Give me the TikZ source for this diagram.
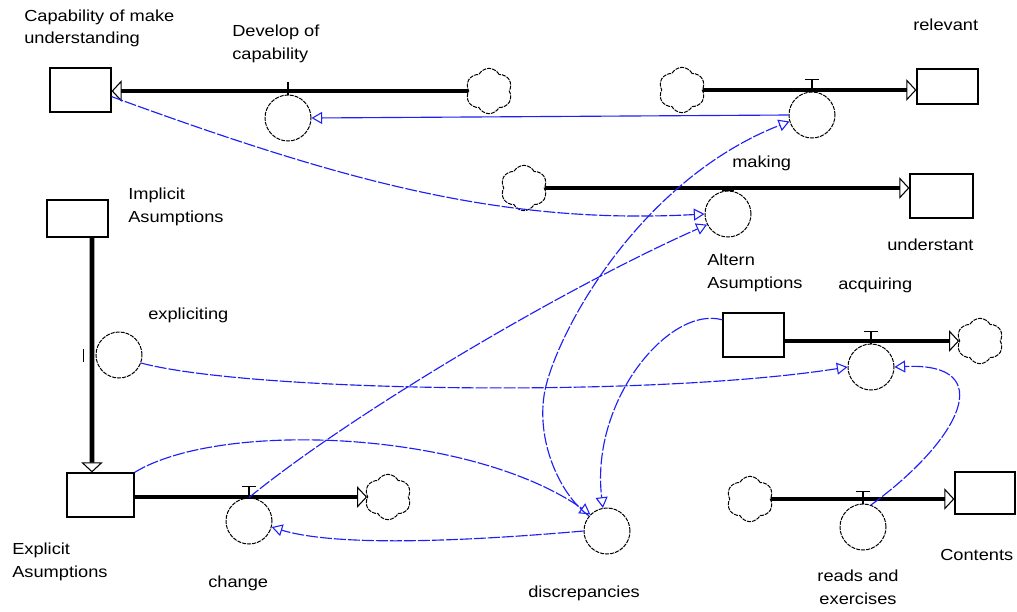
\documentclass[tikz,border=0pt]{standalone}
\usepackage{fontspec}
\setmainfont{Liberation Sans}[FakeStretch=1.14]
\usetikzlibrary{arrows.meta,shapes.symbols}
\definecolor{linkblue}{RGB}{30,30,250}
\begin{document}
\begin{tikzpicture}[x=0.75pt,y=-0.75pt,
  stock/.style={draw=black, line width=0.9pt, rectangle, inner sep=0pt},
  valve/.style={draw=black, circle, line width=0.75pt, dash pattern=on 3pt off 0.8pt, minimum size=34.5pt, inner sep=0pt},
  cloudy/.style={draw=black, cloud, cloud puffs=6, cloud puff arc=125, aspect=1, line width=0.75pt, dash pattern=on 3pt off 0.8pt, minimum width=35pt, minimum height=34pt, inner sep=0pt},
  pipe/.style={line width=3.6pt, black, -{Triangle[open, length=7.5pt, width=16pt, line width=0.8pt]}},
  pipethin/.style={pipe, line width=2.6pt},
  link/.style={linkblue, line width=0.85pt, -{Triangle[open, length=8pt, width=9pt, line width=0.8pt]}},
  brk/.style={dash pattern=on 9pt off 1.5pt},
  lbl/.style={font=\fontsize{12}{17}\selectfont, align=left, inner sep=0pt},
  tee/.style={line width=0.8pt, black}
]
\useasboundingbox[fill=white] (0,0) rectangle (1017,611);

% stocks
\node[stock, minimum width=45.75pt, minimum height=33pt] (capS) at (80.5,90) {};
\node[stock, minimum width=45.75pt, minimum height=26.25pt] (relS) at (947.5,86.5) {};
\node[stock, minimum width=47.25pt, minimum height=33pt] (undS) at (941.5,196) {};
\node[stock, minimum width=45.75pt, minimum height=27.75pt] (impS) at (77.5,218.5) {};
\node[stock, minimum width=50.25pt, minimum height=33pt] (expS) at (100.5,495) {};
\node[stock, minimum width=45.75pt, minimum height=33pt] (acqS) at (753.5,335) {};
\node[stock, minimum width=45pt, minimum height=31.5pt] (conS) at (985,493) {};

% clouds
\node[cloudy] (cl1) at (489,91) {};
\node[cloudy] (cl2) at (682,90) {};
\node[cloudy] (cl3) at (524,188) {};
\node[cloudy] (cl4) at (980,341) {};
\node[cloudy] (cl5) at (388,497) {};
\node[cloudy] (cl6) at (750,499) {};

% valves / converters
\node[valve] (vDev) at (288,118) {};
\node[valve] (vRel) at (812,115) {};
\node[valve] (vMak) at (728,214) {};
\node[valve] (vAcq) at (871,367) {};
\node[valve] (vExp) at (119,355) {};
\node[valve] (vChg) at (249,521) {};
\node[valve] (vDis) at (607,531) {};
\node[valve] (vRd) at (863,527) {};

% pipes
\draw[pipe] (cl1.west) -- (cl1.west -| capS.east);
\draw[pipe] (cl2.east) -- (cl2.east -| relS.west);
\draw[pipethin] (cl3.east) -- (cl3.east -| undS.west);
\draw[pipe] ([xshift=10.9pt]impS.south) -- ([xshift=-6.4pt]expS.north);
\draw[pipe] (expS.east |- cl5.west) -- (cl5.west);
\draw[pipethin] (acqS.east |- cl4.west) -- (cl4.west);
\draw[pipe] (cl6.east) -- (cl6.east -| conS.west);

% valve marks
\draw[tee] (vDev.north) -- ++(0,-13);
\draw[tee] (vRel.north) -- ++(0,-12) ++(-7,0) -- ++(14,0);
\draw[tee] (vAcq.north) -- ++(0,-12) ++(-7,0) -- ++(14,0);
\draw[tee] (vChg.north) -- ++(0,-11) ++(-7,0) -- ++(14,0);
\draw[tee] (vRd.north) -- ++(0,-12) ++(-7,0) -- ++(14,0);
\draw[tee] (vExp.west) ++(-12,-6) -- ++(0,13);
\draw[line width=2.2pt] (vMak.north) ++(-6,-1) -- ++(12,0);

% links
\draw[link] (vRel.west) -- (vDev.east);
\draw[link, brk] (capS.-12) .. controls (340,180) and (500,225) .. (vMak.west);
\draw[link, brk] (vChg.north) .. controls (350,415) and (560,290) .. (vMak.207);
\draw[link, brk] (vDis.140) .. controls (560,495) and (535,440) .. (545,390) .. controls (558,330) and (640,180) .. (vRel.196);
\draw[link, brk] (vDis.west) .. controls (480,540) and (340,548) .. (vChg.-15);
\draw[link, brk] (vExp.-20) .. controls (250,392) and (650,398) .. (vAcq.west);
\draw[link, brk] (vRd.70) .. controls (960,440) and (1000,362) .. (vAcq.east);
\draw[link, brk] (acqS.154) .. controls (670,305) and (590,400) .. (vDis.100);
\draw[link, brk] (expS.north east) .. controls (220,420) and (470,430) .. (vDis.135);

% labels
\node[lbl, anchor=west] (tCap) at (24,28.5) {Capability of make\\understanding};
\node[lbl, anchor=west] (tDev) at (232,44) {Develop of\\capability};
\node[lbl, anchor=west] (tRel) at (913,25) {relevant};
\node[lbl, anchor=west] (tImp) at (128,207) {Implicit\\Asumptions};
\node[lbl, anchor=west] (tExpl) at (148,315) {expliciting};
\node[lbl, anchor=west] (tMak) at (732,163) {making};
\node[lbl, anchor=west] (tUnd) at (887,245) {understant};
\node[lbl, anchor=west] (tAlt) at (707,273) {Altern\\Asumptions};
\node[lbl, anchor=west] (tAcq) at (838,285) {acquiring};
\node[lbl, anchor=west] (tExp) at (12,562) {Explicit\\Asumptions};
\node[lbl, anchor=west] (tChg) at (208,583) {change};
\node[lbl, anchor=west] (tDis) at (528,593) {discrepancies};
\node[lbl, align=center] (tRd) at (858,587) {reads and\\exercises};
\node[lbl, anchor=west] (tCon) at (940,555) {Contents};
\end{tikzpicture}
\end{document}
